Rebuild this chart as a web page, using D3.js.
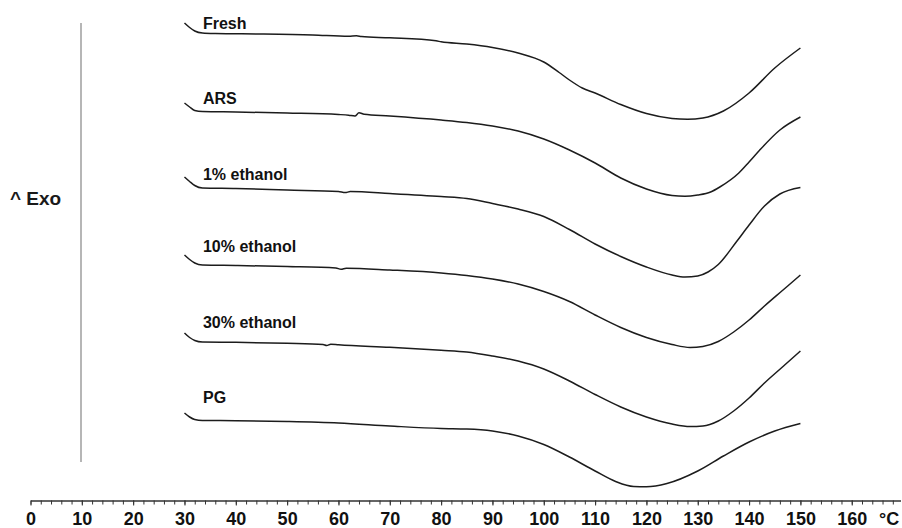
<!DOCTYPE html>
<html>
<head>
<meta charset="utf-8">
<script src="https://cdn.jsdelivr.net/npm/d3@7"></script>
<style>
  html, body { margin: 0; padding: 0; background: #fff; }
  svg { display: block; font-family: "Liberation Sans", Arial, sans-serif; }
</style>
</head>
<body>
<svg id="chart" width="902" height="528"></svg>
<script>
// ---- data (temperature °C, relative heat flow, exo up, curves stacked) ----
const seriesNames = ["Fresh", "ARS", "1% ethanol", "10% ethanol", "30% ethanol", "PG"];

const fresh = [[30,477],[31,472.5],[32,469],[33.5,467],[36,466.5],[45,466],[55,465],[62,463.7],[63.5,464.2],[64.5,463.4],[70,462.2],[79,459.2],[80,458.2],[85,456],[90,452.5],[95,447],[100,438],[103,427.5],[105,420],[107.5,412],[110,407],[115,395.5],[120,386.5],[125,381.5],[128,380.7],[131,382],[135,389],[140,407],[145,432],[150,452]];
const ars = [[30,397],[31,393],[32,389.5],[33.5,388.5],[40,388],[50,387],[60,385.5],[62,384.8],[63.2,384],[64,387.2],[65,385.7],[70,384],[80,380],[85,377.5],[90,374],[95,369],[100,361],[105,350],[110,337],[115,322],[120,311],[125,304.5],[127.5,303.7],[130,305],[132.5,308],[134.3,313],[138,327],[140,338],[142,349.5],[146,370],[150,383]];
const eth1 = [[30,323],[31,318.5],[32,314.5],[33.5,312],[40,311.5],[50,310],[60,308.5],[61.3,307.4],[62.3,308.4],[70,306.5],[80,303.5],[85,301.5],[90,296.5],[95,291],[100,283.5],[105,270.5],[110,256],[115,243.5],[120,233],[125,225],[127.5,223],[130,224],[132,228],[134,235.5],[137.5,258],[140,275],[143,294],[146,306],[150,312.5]];
const eth10 = [[30,245],[31,240.5],[32,237],[33.5,235],[40,234.5],[50,233.5],[59.5,232],[60.5,230.7],[61.5,231.8],[70,230],[80,227],[85,224.5],[90,221],[95,216],[100,208.5],[105,198.5],[110,185],[115,172.5],[120,162.5],[125,155.5],[128.5,152.5],[131,153.5],[134,158.5],[137,168],[140,180],[143,194],[146.5,209.5],[150,225]];
const eth30 = [[30,167],[31,162.5],[32,159.5],[33.5,158],[40,157.7],[50,156.7],[57,155.5],[57.7,154.5],[58.5,155.8],[60,155.2],[70,152.7],[80,149.8],[85,148],[90,144],[95,139],[100,131],[105,119],[110,105.5],[115,93],[120,83],[125,76],[128.5,73.5],[131,74],[134,79],[137,89],[140,102],[143,117],[146.5,133],[150,149]];
const pg = [[30,87],[31,83],[32,80.5],[33.5,79.5],[40,79.3],[50,78.5],[60,77],[70,74],[80,71.5],[85,71],[90,69],[95,64],[100,55.5],[105,43],[110,29],[114,18.5],[117.5,13.5],[120,13.3],[124,16.5],[130,29],[135,44],[140,58],[145,69],[150,76.5]];

const seriesValues = [fresh, ars, eth1, eth10, eth30, pg];
const majorTicks = [0,10,20,30,40,50,60,70,80,90,100,110,120,130,140,150,160];
const unitLabel = "°C";
const yLabel = "^ Exo";

// ---- drawing ----
const svg = d3.select("#chart");
const x = d3.scaleLinear().domain([0, 169.5]).range([30.5, 900.5]);
const y = d3.scaleLinear().domain([0, 480]).range([500, 20]);

// vertical exo line
svg.append("line")
  .attr("x1", 81).attr("x2", 81).attr("y1", 23).attr("y2", 462)
  .attr("stroke", "#8f8f8f").attr("stroke-width", 1.3);

svg.append("text")
  .attr("x", 10).attr("y", 205)
  .attr("font-size", 19).attr("font-weight", "bold").attr("fill", "#1a1a1a")
  .text(yLabel);

// axis
const axisY = 500.5;
const minorTicks = d3.range(0, 169, 2);
const gMinor = svg.append("g").attr("transform", `translate(0,${axisY})`)
  .call(d3.axisBottom(x).tickValues(minorTicks).tickSize(4).tickFormat("").tickSizeOuter(0));
const gMajor = svg.append("g").attr("transform", `translate(0,${axisY})`)
  .call(d3.axisBottom(x).tickValues(majorTicks).tickSize(5).tickPadding(7).tickSizeOuter(0));
[gMinor, gMajor].forEach(g => {
  g.select(".domain").attr("stroke", "#333").attr("stroke-width", 1.2);
  g.selectAll(".tick line").attr("stroke", "#333").attr("stroke-width", 1);
});
gMajor.selectAll(".tick text")
  .attr("font-size", 18).attr("font-weight", "bold").attr("fill", "#111")
  .attr("font-family", "'Liberation Sans', Arial, sans-serif");

svg.append("text")
  .attr("x", 879).attr("y", 524.5)
  .attr("font-size", 18).attr("font-weight", "bold").attr("fill", "#111")
  .text(unitLabel);

// curves
const line = d3.line()
  .x(d => x(d[0]))
  .y(d => y(d[1]))
  .curve(d3.curveMonotoneX);

svg.append("g").selectAll("path")
  .data(seriesValues)
  .join("path")
  .attr("d", line)
  .attr("fill", "none")
  .attr("stroke", "#1c1c1c")
  .attr("stroke-width", 1.5);

// curve labels, placed above the flat start of each curve
const labelOffsets = [4, 7.5, 8, 13, 14, 17.5];
svg.append("g").selectAll("text")
  .data(seriesNames)
  .join("text")
  .attr("x", x(33.6))
  .attr("y", (d, i) => y(seriesValues[i][3][1]) - labelOffsets[i])
  .attr("font-size", 16).attr("font-weight", "bold").attr("fill", "#111")
  .text(d => d);
</script>
</body>
</html>
